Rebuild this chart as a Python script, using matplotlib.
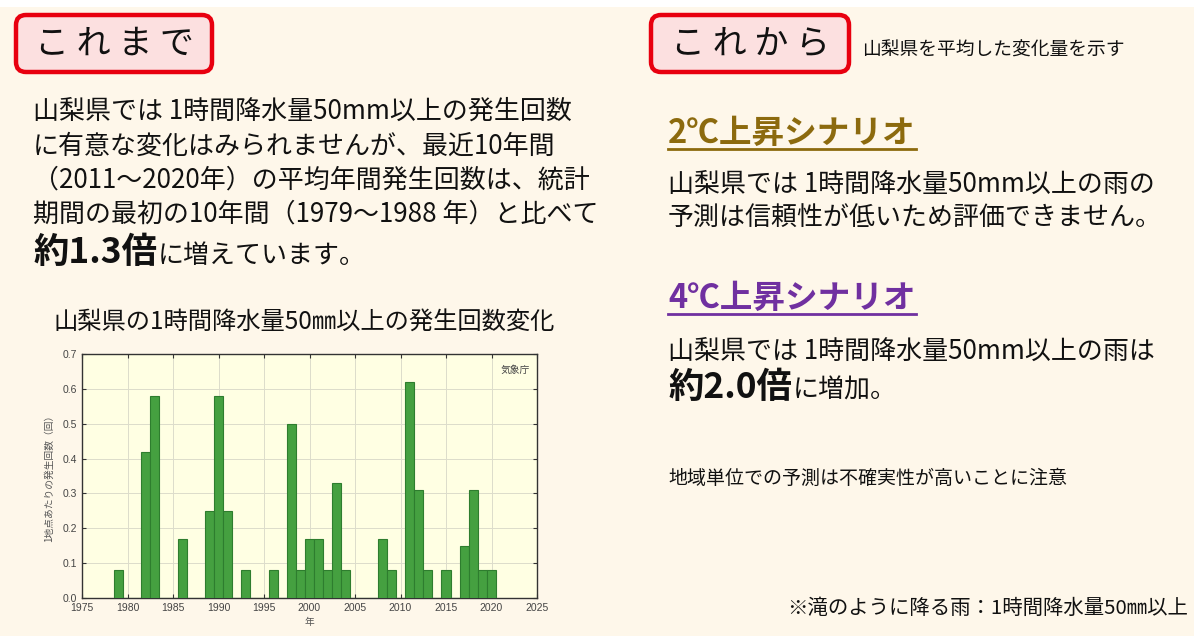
import matplotlib
matplotlib.use("Agg")
import matplotlib.pyplot as plt
from matplotlib.patches import FancyBboxPatch, Rectangle
from matplotlib.lines import Line2D

plt.rcParams['font.family'] = ['Noto Sans CJK JP', 'DejaVu Sans']

# ---- data ----
years = [1979, 1980, 1981, 1982, 1983, 1984, 1985, 1986, 1987, 1988,
         1989, 1990, 1991, 1992, 1993, 1994, 1995, 1996, 1997, 1998,
         1999, 2000, 2001, 2002, 2003, 2004, 2005, 2006, 2007, 2008,
         2009, 2010, 2011, 2012, 2013, 2014, 2015, 2016, 2017, 2018,
         2019, 2020]
counts = [0.08, 0.0, 0.0, 0.42, 0.58, 0.0, 0.0, 0.17, 0.0, 0.0,
          0.25, 0.58, 0.25, 0.0, 0.08, 0.0, 0.0, 0.08, 0.0, 0.50,
          0.08, 0.17, 0.17, 0.08, 0.33, 0.08, 0.0, 0.0, 0.0, 0.17,
          0.08, 0.0, 0.62, 0.31, 0.08, 0.0, 0.08, 0.0, 0.15, 0.31,
          0.08, 0.08]
xticks = [1975, 1980, 1985, 1990, 1995, 2000, 2005, 2010, 2015, 2020, 2025]
yticks = [0.0, 0.1, 0.2, 0.3, 0.4, 0.5, 0.6, 0.7]

W, H = 1194, 636
fig = plt.figure(figsize=(W / 100, H / 100), dpi=100)
fig.patch.set_facecolor('white')

def fx(x):
    return x / W

def fy(y):
    return 1 - y / H

# cream background below thin white strip
fig.patches.append(Rectangle((0, 0), 1, fy(7), transform=fig.transFigure,
                             facecolor='#FEF7EA', edgecolor='none', zorder=-5))

def box(x0, y0, x1, y1, label):
    p = FancyBboxPatch((x0 / 100, (H - y1) / 100), (x1 - x0) / 100, (y1 - y0) / 100,
                       boxstyle="round,pad=0,rounding_size=0.1",
                       transform=fig.dpi_scale_trans, facecolor='#FCE0E0',
                       edgecolor='#E8000F', linewidth=3.2, zorder=-4)
    fig.patches.append(p)
    fig.text(fx((x0 + x1) / 2), fy((y0 + y1) / 2 + 1), label, fontsize=24.5,
             ha='center', va='center', color='#111111')

box(16, 15, 212, 72, 'こ れ ま で')
box(651, 15, 849, 72, 'こ れ か ら')
fig.text(fx(862), fy(50), '山梨県を平均した変化量を示す', fontsize=13.5,
         ha='left', va='center', color='#111111')

renderer = fig.canvas.get_renderer()

def mixed(x, y, parts):
    """parts: list of (text, fontsize, weight)."""
    cur = fx(x)
    for txt, fs, wt in parts:
        t = fig.text(cur, fy(y), txt, fontsize=fs, fontweight=wt,
                     ha='left', va='baseline', color='#111111')
        bb = t.get_window_extent(renderer)
        cur = bb.x1 / W + 0.001

# left paragraph
left_lines = ['山梨県では 1時間降水量50mm以上の発生回数',
              'に有意な変化はみられませんが、最近10年間',
              '（2011～2020年）の平均年間発生回数は、統計',
              '期間の最初の10年間（1979～1988 年）と比べて']
base_y = [119, 154, 188, 222]
for s, yb in zip(left_lines, base_y):
    fig.text(fx(33), fy(yb), s, fontsize=18.7, ha='left', va='baseline', color='#111111')
mixed(33, 263, [('約1.3倍', 25.5, 'bold'), ('に増えています。', 18.7, 'normal')])

# chart title
fig.text(fx(53), fy(329), '山梨県の1時間降水量50㎜以上の発生回数変化', fontsize=17.5,
         ha='left', va='baseline', color='#111111')

# right side
def heading(x, y, txt, color):
    t = fig.text(fx(x), fy(y), txt, fontsize=23.5, fontweight='bold',
                 ha='left', va='baseline', color=color)
    bb = t.get_window_extent(renderer)
    fig.lines.append(Line2D([bb.x0 / W, bb.x1 / W], [fy(y + 6), fy(y + 6)],
                            transform=fig.transFigure, color=color, lw=2))

heading(668, 143, '2℃上昇シナリオ', '#8C6A0E')
fig.text(fx(668), fy(192), '山梨県では 1時間降水量50mm以上の雨の', fontsize=18.7,
         ha='left', va='baseline', color='#111111')
fig.text(fx(668), fy(225), '予測は信頼性が低いため評価できません。', fontsize=18.7,
         ha='left', va='baseline', color='#111111')

heading(668, 308, '4℃上昇シナリオ', '#7030A0')
fig.text(fx(668), fy(359), '山梨県では 1時間降水量50mm以上の雨は', fontsize=18.7,
         ha='left', va='baseline', color='#111111')
mixed(668, 398, [('約2.0倍', 25.5, 'bold'), ('に増加。', 18.7, 'normal')])

fig.text(fx(668), fy(484), '地域単位での予測は不確実性が高いことに注意', fontsize=13.7,
         ha='left', va='baseline', color='#111111')
fig.text(fx(1188), fy(614), '※滝のように降る雨：1時間降水量50㎜以上', fontsize=14.7,
         ha='right', va='baseline', color='#111111')

# ---- bar chart ----
ax = fig.add_axes([fx(82), fy(598), (537 - 82) / W, (598 - 354) / H])
ax.set_zorder(2)
ax.set_facecolor('#FFFFE3')
ax.bar(years, counts, width=1.0, color='#45A040', edgecolor='#2E7D2E',
       linewidth=0.8, zorder=3)
ax.set_xlim(1975, 2025)
ax.set_ylim(0, 0.7)
ax.set_xticks(xticks)
ax.set_yticks(yticks)
ax.set_yticklabels([f'{v:.1f}' for v in yticks])
ax.grid(True, color='#DCDCCB', linewidth=0.7, zorder=0)
ax.set_axisbelow(True)
ax.tick_params(axis='both', labelsize=7.5, colors='#333333', labelcolor='#444444',
               direction='in', length=3, top=True, right=True)
for lab in ax.get_xticklabels() + ax.get_yticklabels():
    lab.set_family(['Liberation Sans', 'DejaVu Sans'])
for sp in ax.spines.values():
    sp.set_color('#333333')
    sp.set_linewidth(1.0)
ax.set_xlabel('年', fontsize=7, color='#555555', labelpad=3)
ax.set_ylabel('1地点あたりの発生回数（回）', fontsize=7, color='#555555', labelpad=6)
ax.text(0.985, 0.955, '気象庁', transform=ax.transAxes, fontsize=7,
        ha='right', va='top', color='#444444')

fig.savefig('out.png', dpi=100, facecolor=fig.get_facecolor())
